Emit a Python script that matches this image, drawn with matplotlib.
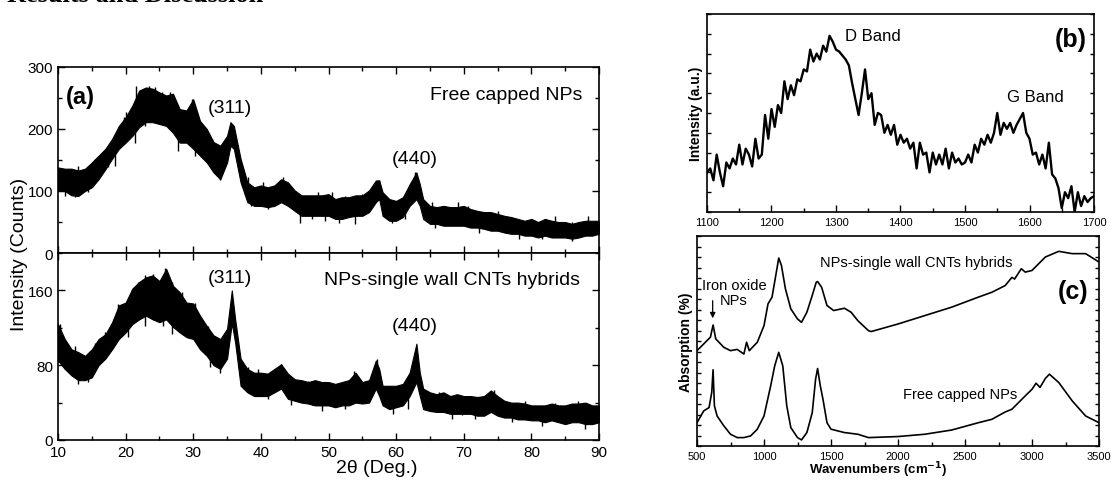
import numpy as np
import matplotlib
matplotlib.use("Agg")
import matplotlib.pyplot as plt
from matplotlib.ticker import MultipleLocator

plt.rcParams['font.family'] = ['Liberation Sans', 'DejaVu Sans']

# ---- (a) XRD, free capped NPs (band: upper / lower envelope) ----
xrd_top_deg = [10, 11, 12, 13, 14, 15, 16, 17, 18, 19, 20, 21, 22, 23, 24, 25, 26, 27, 28, 29,
               30, 31, 32, 33, 34, 35, 35.5, 36, 37, 38, 39, 40, 41, 42, 43, 44, 45, 46, 47, 48,
               49, 50, 51, 52, 53, 54, 55, 56, 57, 57.5, 58, 59, 60, 61, 62, 63, 63.5, 64, 65, 66,
               67, 68, 69, 70, 71, 72, 73, 74, 75, 76, 77, 78, 79, 80, 81, 82, 83, 84, 85, 86,
               87, 88, 89, 90]
xrd_top_hi = [138, 136, 136, 133, 136, 146, 157, 168, 184, 205, 219, 238, 262, 267, 265, 259, 254, 257, 232, 230,
              248, 213, 200, 179, 173, 189, 211, 205, 152, 114, 106, 109, 106, 109, 119, 114, 101, 93, 93, 93,
              93, 95, 87, 90, 90, 93, 93, 101, 117, 117, 98, 87, 84, 90, 111, 130, 111, 87, 76, 74,
              76, 74, 74, 76, 71, 68, 66, 66, 63, 60, 58, 55, 52, 55, 50, 55, 52, 50, 50, 47,
              50, 52, 52, 52]
xrd_top_lo = [100, 100, 93, 92, 100, 106, 119, 135, 152, 168, 178, 189, 203, 211, 211, 208, 205, 194, 178, 178,
              168, 157, 146, 130, 119, 146, 173, 168, 114, 82, 76, 76, 74, 76, 82, 76, 68, 60, 60, 60,
              60, 60, 55, 55, 58, 60, 60, 66, 82, 87, 60, 52, 52, 58, 76, 87, 76, 55, 47, 47,
              44, 44, 44, 44, 41, 41, 39, 36, 36, 33, 31, 31, 28, 28, 25, 28, 25, 25, 25, 23,
              25, 28, 28, 31]
# noise spikes standing out of the band
top_up_deg = [13, 15.5, 17.4, 19.7, 20.1, 21.6, 22.3, 23.5, 24.3, 25.4, 26.6, 28.5, 29.8, 30.7, 32.7,
              38.1, 40.3, 43.3, 45, 48.5, 50.5, 52.5, 54.9, 57.4, 62.8, 65.3, 69.2, 70.7, 75.1, 83.5, 88.4]
top_up_val = [141, 152, 168, 219, 227, 270, 262, 270, 267, 259, 259, 230, 248, 216, 184,
              122, 114, 122, 100, 98, 98, 92, 95, 117, 130, 82, 82, 76, 68, 60, 60]
top_dn_deg = [11, 12.5, 14.5, 18.4, 21.4, 22.9, 27.8, 30.2, 32.7, 33.9, 38.6, 41.1, 45.8, 47.5, 49.5,
              51.5, 53.9, 59.4, 61.3, 65.8, 72.2, 78.1, 81.5, 86]
top_dn_val = [92, 90, 98, 141, 178, 205, 165, 157, 136, 117, 76, 71, 49, 55, 52,
              49, 47, 49, 55, 41, 33, 22, 22, 20]

# ---- (a) XRD, NPs-single wall CNTs hybrids ----
xrd_bot_deg = [10, 11, 12, 13, 14, 15, 16, 17, 18, 19, 20, 21, 22, 23, 24, 25, 26, 27, 28, 29,
               30, 31, 32, 33, 34, 35, 35.7, 36.2, 37, 38, 39, 40, 41, 42, 43, 44, 45, 46, 47, 48,
               49, 50, 51, 52, 53, 54, 55, 56, 57, 57.5, 58, 59, 60, 61, 62, 63, 63.5, 64, 65, 66,
               67, 68, 69, 70, 71, 72, 73, 74, 75, 76, 77, 78, 79, 80, 81, 82, 83, 84, 85, 86,
               87, 88, 89, 90]
xrd_bot_hi = [124, 108, 97, 94, 90, 97, 108, 113, 126, 144, 147, 162, 169, 174, 176, 170, 183, 165, 158, 147,
              146, 133, 122, 112, 108, 119, 160, 129, 87, 76, 72, 72, 71, 76, 81, 71, 65, 64, 62, 64,
              62, 62, 60, 62, 64, 72, 62, 64, 85, 76, 58, 58, 58, 60, 72, 103, 72, 55, 51, 49,
              51, 47, 49, 47, 47, 46, 47, 53, 47, 42, 40, 40, 39, 37, 37, 37, 39, 37, 37, 39,
              39, 40, 37, 37]
xrd_bot_lo = [85, 76, 69, 64, 64, 67, 80, 87, 97, 108, 115, 124, 129, 133, 129, 126, 129, 121, 115, 110,
              108, 97, 90, 80, 76, 87, 125, 104, 58, 51, 47, 47, 47, 51, 55, 44, 42, 40, 39, 37,
              37, 37, 35, 37, 37, 40, 39, 40, 55, 47, 37, 33, 35, 37, 47, 62, 47, 33, 31, 30,
              30, 28, 28, 28, 28, 26, 26, 30, 26, 24, 24, 22, 22, 21, 21, 19, 21, 19, 17, 19,
              19, 17, 17, 19]
bot_up_deg = [10.3, 12.5, 15.5, 16.9, 18.9, 20.9, 21.9, 22.9, 24.1, 25.8, 26.8, 28.3, 30.2, 32.2,
              39.6, 43, 47, 49, 53.7, 57.1, 66.3, 69.7, 74.4, 79.1, 83.5, 86.9]
bot_up_val = [124, 101, 104, 115, 145, 162, 169, 176, 178, 184, 169, 158, 147, 122,
              76, 81, 63, 62, 74, 87, 51, 47, 54, 42, 40, 42]
bot_dn_deg = [11, 13, 14.5, 20.4, 22.9, 25.6, 26.8, 29.3, 32.5, 34, 38.1, 41.1, 44.5, 47.5, 49,
              52.5, 59.6, 61.8, 68.2, 71.7, 77.1, 81.5, 87.9]
bot_dn_val = [76, 60, 62, 110, 122, 122, 113, 112, 78, 72, 58, 44, 37, 37, 31,
              33, 28, 33, 22, 22, 19, 15, 12]

# ---- (b) Raman ----
raman_wn = list(range(1100, 1701, 5))
raman_int = [20, 22, 16, 29, 20, 13, 25, 22, 27, 24, 34, 24, 32, 29, 23, 37, 27, 29, 49, 37,
             52, 43, 54, 50, 66, 57, 64, 59, 67, 66, 72, 71, 82, 76, 80, 77, 84, 81, 89, 86,
             82, 81, 79, 77, 74, 65, 57, 49, 60, 72, 57, 60, 44, 50, 49, 40, 44, 39, 44, 34,
             39, 35, 37, 32, 35, 22, 35, 29, 30, 20, 30, 24, 29, 24, 32, 22, 30, 25, 27, 24,
             25, 29, 25, 34, 30, 37, 34, 39, 35, 40, 50, 39, 45, 42, 45, 40, 44, 47, 50, 40,
             37, 29, 30, 24, 29, 22, 35, 19, 17, 12, 2, 10, 7, 13, 0, 10, 3, 8, 5, 7, 8]

# ---- (c) FTIR ----
ir_hyb_wn = [500, 550, 600, 620, 640, 700, 750, 800, 850, 870, 890, 950, 1000, 1030, 1060, 1090,
             1110, 1130, 1160, 1200, 1250, 1280, 1320, 1360, 1390, 1400, 1430, 1470, 1520, 1600,
             1650, 1700, 1740, 1780, 1800, 2000, 2200, 2400, 2500, 2600, 2700, 2800, 2850, 2870,
             2920, 2950, 3000, 3100, 3200, 3300, 3400, 3500]
ir_hyb_abs = [45.4, 48.6, 51.8, 57.6, 51.0, 47.0, 45.4, 46.0, 43.8, 49.4, 45.4, 49.4, 57.3, 67.7, 70.9, 82.0,
              89.5, 86.0, 74.8, 65.3, 60.5, 58.9, 63.7, 71.7, 78.0, 78.3, 75.6, 66.9, 64.5, 65.6,
              63.7, 59.7, 57.3, 54.9, 54.5, 58.1, 62.1, 66.1, 68.5, 70.9, 73.2, 76.4, 80.3, 79.5,
              84.4, 82.8, 83.6, 90.0, 92.7, 91.6, 91.6, 87.6]
ir_free_wn = [500, 550, 590, 610, 620, 630, 650, 700, 750, 800, 850, 900, 950, 1000, 1050, 1080,
              1110, 1140, 1170, 1200, 1250, 1280, 1320, 1360, 1385, 1400, 1420, 1440, 1470, 1500,
              1600, 1700, 1780, 2000, 2200, 2400, 2600, 2700, 2800, 2850, 2900, 2950, 3000, 3030,
              3060, 3100, 3130, 3200, 3300, 3400, 3500]
ir_free_abs = [11.1, 16.7, 18.3, 25.5, 36.3, 19.1, 14.3, 9.6, 5.6, 4.0, 4.0, 4.8, 8.0, 14.3, 28.7, 38.2,
               44.6, 38.2, 19.1, 8.8, 4.0, 2.9, 6.4, 15.9, 31.8, 36.9, 28.7, 22.3, 11.1, 8.0,
               6.4, 5.6, 4.0, 4.5, 5.6, 7.6, 11.1, 12.7, 16.2, 17.5, 20.7, 23.9, 27.0, 29.9,
               27.9, 32.2, 34.2, 30.2, 21.5, 14.3, 11.1]

W, H = 1112, 481
fig = plt.figure(figsize=(W / 100, H / 100), dpi=100)


def box(x0, y0, x1, y1):
    # pixel box (top-left origin) -> figure fraction rect
    return [x0 / W, 1 - y1 / H, (x1 - x0) / W, (y1 - y0) / H]


def style(ax, lw=1.2):
    for s in ax.spines.values():
        s.set_linewidth(lw)
    ax.tick_params(which='both', direction='in', width=1, colors='black')
    ax.tick_params(which='major', length=5)
    ax.tick_params(which='minor', length=3)


def xrd_band(ax, deg, lo, hi, up_deg, up_val, dn_deg, dn_val, spike):
    ax.fill_between(deg, lo, hi, color='black', lw=0.8)
    ax.vlines(up_deg, [v - spike for v in up_val], up_val, color='black', lw=1.0)
    ax.vlines(dn_deg, dn_val, [v + spike for v in dn_val], color='black', lw=1.0)


ax1 = fig.add_axes(box(58, 68, 599, 254))
ax2 = fig.add_axes(box(58, 254, 599, 441))
axb = fig.add_axes(box(707, 15, 1094, 213))
axc = fig.add_axes(box(697, 237, 1099, 447))

# (a) top
xrd_band(ax1, xrd_top_deg, xrd_top_lo, xrd_top_hi, top_up_deg, top_up_val, top_dn_deg, top_dn_val, 30)
ax1.set_xlim(10, 90)
ax1.set_ylim(0, 300)
ax1.set_yticks([0, 100, 200, 300])
ax1.yaxis.set_minor_locator(MultipleLocator(50))
ax1.xaxis.set_major_locator(MultipleLocator(10))
ax1.xaxis.set_minor_locator(MultipleLocator(5))
style(ax1)
ax1.tick_params(which='both', top=True, right=True, labelbottom=False, labelsize=11)
ax1.text(11.2, 253, '(a)', fontsize=17, fontweight='bold', va='center')
ax1.text(35.4, 235, '(311)', fontsize=14, ha='center', va='center')
ax1.text(62.7, 152, '(440)', fontsize=14, ha='center', va='center')
ax1.text(87.5, 256, 'Free capped NPs', fontsize=14, ha='right', va='center')

# (a) bottom
xrd_band(ax2, xrd_bot_deg, xrd_bot_lo, xrd_bot_hi, bot_up_deg, bot_up_val, bot_dn_deg, bot_dn_val, 20)
ax2.set_xlim(10, 90)
ax2.set_ylim(0, 200)
ax2.set_yticks([0, 80, 160])
ax2.yaxis.set_minor_locator(MultipleLocator(40))
ax2.xaxis.set_major_locator(MultipleLocator(10))
ax2.xaxis.set_minor_locator(MultipleLocator(5))
style(ax2)
ax2.tick_params(which='both', top=True, right=True, labelsize=11)
ax2.text(35.4, 174, '(311)', fontsize=14, ha='center', va='center')
ax2.text(62.8, 122, '(440)', fontsize=14, ha='center', va='center')
ax2.text(87.2, 172, 'NPs-single wall CNTs hybrids', fontsize=14, ha='right', va='center')

fig.text(377 / W, 1 - 469 / H, '2\u03b8 (Deg.)', fontsize=14, ha='center', va='center')
fig.text(20 / W, 1 - 254 / H, 'Intensity (Counts)', fontsize=14, rotation=90,
         ha='center', va='center')

# (b) Raman
axb.plot(raman_wn, raman_int, color='black', lw=1.7)
axb.set_xlim(1100, 1700)
axb.set_ylim(0, 100)
axb.xaxis.set_major_locator(MultipleLocator(100))
axb.xaxis.set_minor_locator(MultipleLocator(50))
axb.yaxis.set_major_locator(MultipleLocator(10))
style(axb)
axb.tick_params(which='both', right=True, labelleft=False, labelsize=8)
axb.tick_params(axis='y', which='major', length=3)
axb.set_ylabel('Intensity (a.u.)', fontsize=10, fontweight='bold', labelpad=3)
axb.text(1314, 89, 'D Band', fontsize=12, va='center')
axb.text(1565, 58.5, 'G Band', fontsize=12, va='center')
axb.text(1689, 87.5, '(b)', fontsize=18, fontweight='bold', ha='right', va='center')

# (c) FTIR
axc.plot(ir_hyb_wn, ir_hyb_abs, color='black', lw=1.2)
axc.plot(ir_free_wn, ir_free_abs, color='black', lw=1.2)
axc.set_xlim(500, 3500)
axc.set_ylim(0, 100)
axc.xaxis.set_major_locator(MultipleLocator(500))
axc.xaxis.set_minor_locator(MultipleLocator(250))
axc.yaxis.set_major_locator(MultipleLocator(5))
style(axc)
axc.tick_params(which='both', right=True, labelleft=False, labelsize=8)
axc.tick_params(axis='y', which='major', length=3)
axc.set_ylabel('Absorption (%)', fontsize=10, fontweight='bold', labelpad=3)
axc.text(1418, 87.6, 'NPs-single wall CNTs hybrids', fontsize=10.5, va='center')
axc.text(776, 73, 'Iron oxide\nNPs', fontsize=10.5, ha='center', va='center', linespacing=1.1)
axc.annotate('', xy=(617, 59.5), xytext=(617, 70.5),
             arrowprops=dict(arrowstyle='-|>', color='black', lw=0.9, mutation_scale=8))
axc.text(2037, 24.8, 'Free capped NPs', fontsize=10.5, va='center')
axc.text(3418, 73.8, '(c)', fontsize=18, fontweight='bold', ha='right', va='center')
fig.text(878 / W, 1 - 470 / H, 'Wavenumbers (cm$^{\\mathbf{-1}}$)', fontsize=9.5,
         fontweight='bold', ha='center', va='center')

# clipped section heading from the page above the figure
fig.text(7 / W, 1 - 1.5 / H, 'Results and Discussion', fontsize=19, fontweight='bold',
         family='Liberation Serif', ha='left', va='baseline')

fig.savefig('out.png', dpi=100)
